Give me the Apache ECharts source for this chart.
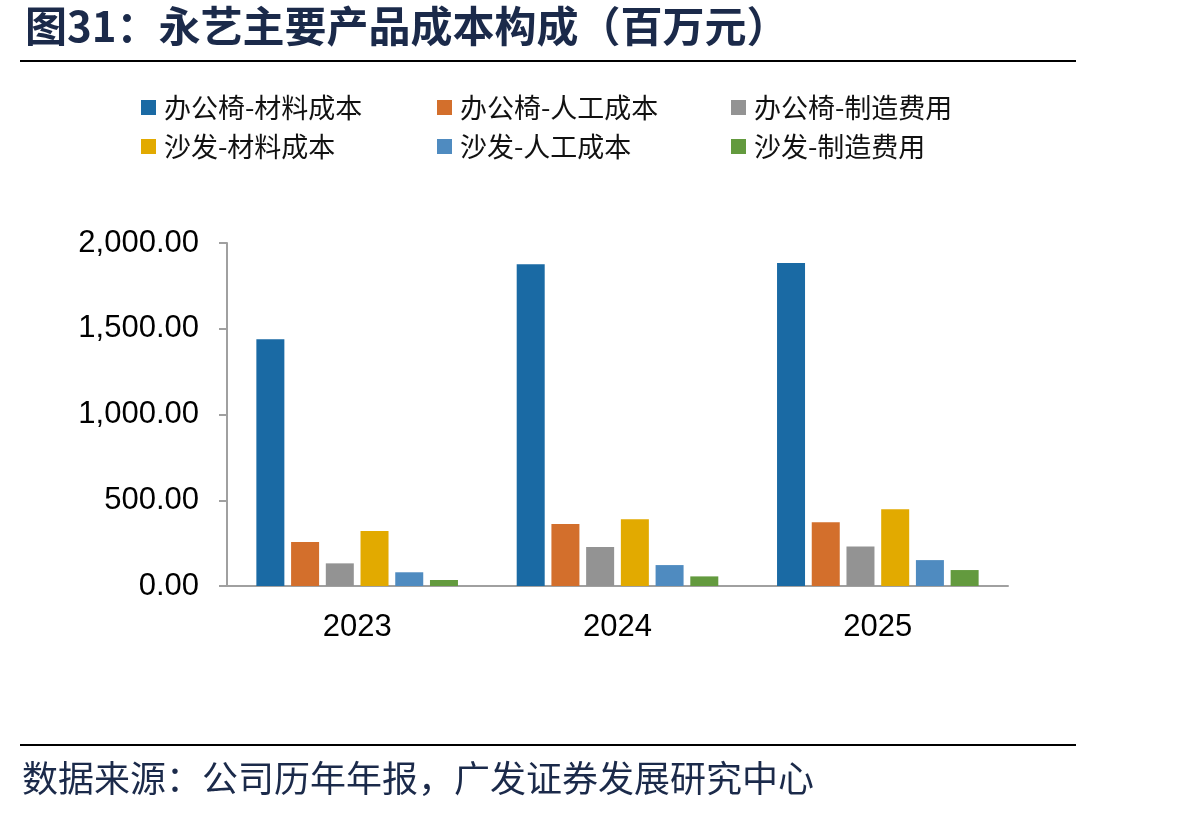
<!DOCTYPE html>
<html><head><meta charset="utf-8">
<script src="https://cdn.jsdelivr.net/npm/echarts@6/dist/echarts.min.js"></script>
<style>html,body{margin:0;padding:0;background:#fff}#c{width:1202px;height:814px}</style>
</head><body><div id="c"></div>
<script>
const categories = ['2023', '2024', '2025'];
const seriesNames = ['办公椅-材料成本', '办公椅-人工成本', '办公椅-制造费用', '沙发-材料成本', '沙发-人工成本', '沙发-制造费用'];
const chairMaterial = [1439, 1876, 1884];
const chairLabor = [256, 361, 371];
const chairOverhead = [132, 227, 231];
const sofaMaterial = [320, 389, 447];
const sofaLabor = [80, 122, 151];
const sofaOverhead = [35, 56, 93];
const yTicks = { min: 0, max: 2000, interval: 500 };
const titleText = '图31：永艺主要产品成本构成（百万元）';
const sourceText = '数据来源：公司历年年报，广发证券发展研究中心';

const values = [chairMaterial, chairLabor, chairOverhead, sofaMaterial, sofaLabor, sofaOverhead];
const colors = ['#1A6AA4', '#D36F2C', '#939393', '#E2AA00', '#4F8BC0', '#639A3E'];
const cjk = '"Noto Sans CJK SC", sans-serif';
const latin = '"Liberation Sans", Arial, sans-serif';

const chart = echarts.init(document.getElementById('c'));
const legendCol = (left, names) => ({
  left: left, top: 94, orient: 'vertical', itemWidth: 15, itemHeight: 15, itemGap: 12,
  padding: 0, icon: 'rect', data: names,
  textStyle: { fontFamily: cjk, fontSize: 27, color: '#111', padding: [0, 0, 0, 3] }
});
chart.setOption({
  animation: false,
  color: colors,
  legend: [
    legendCol(141, [seriesNames[0], seriesNames[3]]),
    legendCol(437, [seriesNames[1], seriesNames[4]]),
    legendCol(731, [seriesNames[2], seriesNames[5]])
  ],
  grid: { left: 227, right: 194, top: 243, bottom: 228, containLabel: false },
  xAxis: {
    type: 'category', data: categories,
    axisLine: { lineStyle: { color: '#A0A0A0', width: 2 } },
    axisTick: { show: false },
    axisLabel: { fontFamily: latin, fontSize: 31, color: '#000', margin: 26 }
  },
  yAxis: {
    type: 'value', min: yTicks.min, max: yTicks.max, interval: yTicks.interval,
    axisLine: { show: true, lineStyle: { color: '#A0A0A0', width: 2 } },
    axisTick: { show: true, length: 8, lineStyle: { color: '#A0A0A0', width: 2 } },
    splitLine: { show: false },
    axisLabel: {
      fontFamily: latin, fontSize: 31, color: '#000', margin: 28,
      formatter: v => v.toLocaleString('en-US', { minimumFractionDigits: 2, maximumFractionDigits: 2 })
    }
  },
  series: seriesNames.map((n, i) => ({
    name: n, type: 'bar', data: values[i], barWidth: 28, barGap: '24%'
  })),
  graphic: [
    { type: 'text', left: 25, top: 5, style: { text: titleText, font: 'bold 42px ' + cjk, fill: '#1B2A4A' } },
    { type: 'rect', shape: { x: 20, y: 60, width: 1056, height: 2 }, style: { fill: '#000' } },
    { type: 'rect', shape: { x: 20, y: 744, width: 1056, height: 2 }, style: { fill: '#000' } },
    { type: 'text', left: 22, top: 760, style: { text: sourceText, font: '36px ' + cjk, fill: '#1B2A4A' } }
  ]
});
</script></body></html>
